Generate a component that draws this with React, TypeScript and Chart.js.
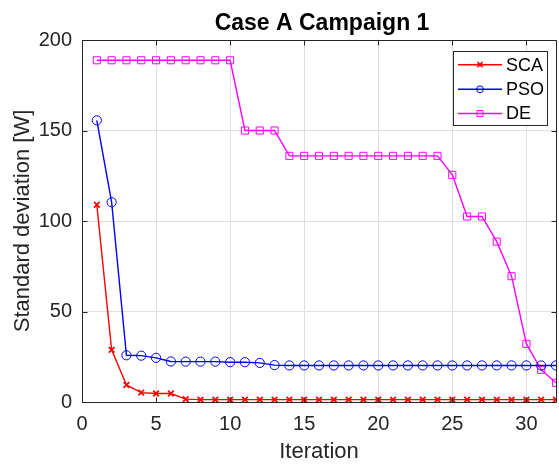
import { useEffect, useRef } from 'react';
import { Chart, registerables } from 'chart.js';

Chart.register(...registerables);

const TITLE = 'Case A Campaign 1';
const X_LABEL = 'Iteration';
const Y_LABEL = 'Standard deviation [W]';

const iterations = [1, 2, 3, 4, 5, 6, 7, 8, 9, 10, 11, 12, 13, 14, 15, 16, 17, 18, 19, 20, 21, 22, 23, 24, 25, 26, 27, 28, 29, 30, 31, 32];

const scaValues = [109, 28.8, 9.4, 5.2, 4.7, 4.7, 1.6, 1.3, 1.3, 1.3, 1.3, 1.3, 1.3, 1.3, 1.3, 1.3, 1.3, 1.3, 1.3, 1.3, 1.3, 1.3, 1.3, 1.3, 1.3, 1.3, 1.3, 1.3, 1.3, 1.3, 1.3, 1.3];
const psoValues = [155.6, 110.4, 25.8, 25.6, 24.4, 22.4, 22.3, 22.3, 22.3, 22.0, 22.0, 21.6, 20.4, 20.2, 20.2, 20.2, 20.2, 20.2, 20.2, 20.2, 20.2, 20.2, 20.2, 20.2, 20.2, 20.2, 20.2, 20.2, 20.2, 20.2, 20.2, 20.2];
const deValues = [188.8, 188.8, 188.8, 188.8, 188.8, 188.8, 188.8, 188.8, 188.8, 188.8, 150, 150, 150, 136, 136, 136, 136, 136, 136, 136, 136, 136, 136, 136, 125.5, 102.5, 102.5, 88.6, 69.5, 32.1, 17.8, 10.6];

const seriesNames = ['SCA', 'PSO', 'DE'];
const seriesColors = ['#ff0000', '#0000ff', '#ff00ff'];
const seriesMarkers = ['crossRot', 'circle', 'rect'];
const seriesRadius = [4, 4.6, 5];
const seriesMarkerWidth = [1.7, 1, 1];
const legendRadius = [3.6, 3.4, 4.2];

const FONT = "'Liberation Sans', Arial, Helvetica, sans-serif";
const AXIS_COLOR = '#262626';

function drawMarker(ctx: CanvasRenderingContext2D, style: string, x: number, y: number, r: number) {
  ctx.beginPath();
  if (style === 'crossRot') {
    const d = r * Math.SQRT1_2;
    ctx.moveTo(x - d, y - d);
    ctx.lineTo(x + d, y + d);
    ctx.moveTo(x - d, y + d);
    ctx.lineTo(x + d, y - d);
  } else if (style === 'circle') {
    ctx.arc(x, y, r, 0, Math.PI * 2);
  } else {
    const s = r * Math.SQRT1_2;
    ctx.rect(x - s, y - s, 2 * s, 2 * s);
  }
  ctx.stroke();
}

const framePlugin = {
  id: 'matlabFrame',
  afterDraw(chart: any) {
    const ctx: CanvasRenderingContext2D = chart.ctx;
    const { left, right, top, bottom } = chart.chartArea;
    const xs = chart.scales.x;
    const ys = chart.scales.y;
    ctx.save();
    ctx.strokeStyle = AXIS_COLOR;
    ctx.lineWidth = 1;
    const L = Math.round(left) + 0.5;
    const R = Math.round(right) + 0.5;
    const T = Math.round(top) + 0.5;
    const B = Math.round(bottom) + 0.5;
    ctx.beginPath();
    ctx.rect(L, T, R - L, B - T);
    ctx.stroke();
    const tl = 5;
    ctx.beginPath();
    xs.ticks.forEach((t: any) => {
      const px = Math.round(xs.getPixelForValue(t.value)) + 0.5;
      ctx.moveTo(px, B);
      ctx.lineTo(px, B - tl);
      ctx.moveTo(px, T);
      ctx.lineTo(px, T + tl);
    });
    ys.ticks.forEach((t: any) => {
      const py = Math.round(ys.getPixelForValue(t.value)) + 0.5;
      ctx.moveTo(L, py);
      ctx.lineTo(L + tl, py);
      ctx.moveTo(R, py);
      ctx.lineTo(R - tl, py);
    });
    ctx.stroke();

    // title
    ctx.fillStyle = '#000000';
    ctx.font = `bold 23px ${FONT}`;
    ctx.textAlign = 'center';
    ctx.textBaseline = 'alphabetic';
    ctx.fillText(TITLE, (left + right) / 2 + 3, 30);

    // legend
    const bx = 453.5, by = 51.5, bw = 94, bh = 74;
    ctx.fillStyle = '#ffffff';
    ctx.fillRect(bx, by, bw, bh);
    ctx.strokeStyle = AXIS_COLOR;
    ctx.lineWidth = 1;
    ctx.strokeRect(bx, by, bw, bh);
    const rowY = [64.7, 89.3, 113.5];
    ctx.font = `18px ${FONT}`;
    ctx.textAlign = 'left';
    ctx.textBaseline = 'middle';
    chart.data.datasets.forEach((ds: any, i: number) => {
      const y = rowY[i];
      ctx.strokeStyle = ds.borderColor;
      ctx.lineWidth = 1.4;
      ctx.beginPath();
      ctx.moveTo(458, y);
      ctx.lineTo(502, y);
      ctx.stroke();
      ctx.lineWidth = seriesMarkerWidth[i];
      drawMarker(ctx, ds.pointStyle, 480, y, legendRadius[i]);
      ctx.fillStyle = '#000000';
      ctx.fillText(ds.label, 506, y + 1);
    });
    ctx.restore();
  },
};

export default function App() {
  const canvasRef = useRef<HTMLCanvasElement | null>(null);

  useEffect(() => {
    document.body.style.margin = '0';
    const canvas = canvasRef.current;
    if (!canvas) return;
    const valueSets = [scaValues, psoValues, deValues];
    const chart = new Chart(canvas, {
      type: 'line',
      data: {
        datasets: seriesNames.map((name, i) => ({
          label: name,
          data: iterations.map((x, k) => ({ x, y: valueSets[i][k] })),
          borderColor: seriesColors[i],
          backgroundColor: 'rgba(0,0,0,0)',
          borderWidth: 1.4,
          pointStyle: seriesMarkers[i] as any,
          pointRadius: seriesRadius[i],
          pointBorderWidth: seriesMarkerWidth[i],
          pointBorderColor: seriesColors[i],
          pointBackgroundColor: 'rgba(0,0,0,0)',
          tension: 0,
          fill: false,
        })),
      },
      options: {
        animation: false,
        responsive: false,
        maintainAspectRatio: false,
        layout: { padding: { left: 0, right: 1, top: 40, bottom: 0 } },
        plugins: {
          legend: { display: false },
          title: { display: false },
          tooltip: { enabled: false },
        },
        scales: {
          x: {
            type: 'linear',
            min: 0,
            max: 32,
            afterFit: (scale: any) => {
              scale.height = 62;
            },
            ticks: {
              stepSize: 5,
              includeBounds: false,
              color: AXIS_COLOR,
              font: { family: FONT, size: 20 },
              padding: 10,
              maxRotation: 0,
            },
            grid: { color: '#dfdfdf', lineWidth: 1, drawTicks: false },
            border: { display: false },
            title: {
              display: true,
              text: X_LABEL,
              color: AXIS_COLOR,
              font: { family: FONT, size: 22, lineHeight: 1 },
              padding: { top: 0, bottom: 1 },
            },
          },
          y: {
            type: 'linear',
            min: 0,
            max: 200,
            afterFit: (scale: any) => {
              scale.width = 82;
            },
            ticks: {
              stepSize: 50,
              includeBounds: false,
              color: AXIS_COLOR,
              font: { family: FONT, size: 20 },
              padding: 10,
            },
            grid: { color: '#dfdfdf', lineWidth: 1, drawTicks: false },
            border: { display: false },
            title: {
              display: true,
              text: Y_LABEL,
              color: AXIS_COLOR,
              font: { family: FONT, size: 22, lineHeight: 1.2 },
              padding: { top: 10, bottom: 0 },
            },
          },
        },
      },
      plugins: [framePlugin],
    });
    return () => chart.destroy();
  }, []);

  return (
    <div style={{ width: 559, height: 464, overflow: 'hidden', position: 'relative' }}>
      <canvas ref={canvasRef} width={562} height={464} style={{ width: 562, height: 464, display: 'block' }} />
    </div>
  );
}
